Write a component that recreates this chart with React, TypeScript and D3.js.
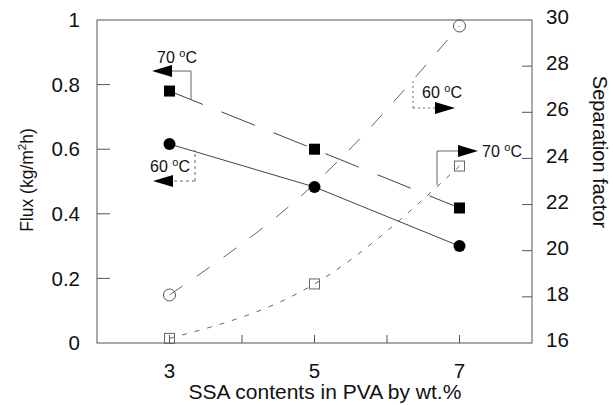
import React from 'react';
import * as d3 from 'd3';

const W = 613, H = 405;
const ssa = [3, 5, 7];
const flux70 = [0.78, 0.6, 0.418];
const flux60 = [0.616, 0.483, 0.3];
const sep60 = [18.08, 22.9, 29.74];
const sep60Markers = [3, 7];
const sep70 = [16.2, 18.56, 23.67];
const xTicks = [3, 4, 5, 6, 7];
const xTickLabels = ['3', '5', '7'];
const fluxTicks = [0, 0.2, 0.4, 0.6, 0.8, 1];
const fluxTickLabels = ['0', '0.2', '0.4', '0.6', '0.8', '1'];
const sepTicks = [16, 18, 20, 22, 24, 26, 28, 30];

// annotations: corner anchored in data coords (x, flux), extents in px
const annotations = [
  { temp: '70', side: 'left', x: 3.297, f: 0.842, lead: 19, vert: 29, tdx: -14, tdy: -8, anchor: 'middle', dash: null },
  { temp: '60', side: 'left', x: 3.352, f: 0.5015, lead: 22, vert: -31, tdx: -25, tdy: -9, anchor: 'middle', dash: '3 3' },
  { temp: '60', side: 'right', x: 6.359, f: 0.7276, lead: 22, vert: -28, tdx: 29, tdy: -10, anchor: 'middle', dash: '2 3' },
  { temp: '70', side: 'right', x: 6.69, f: 0.5944, lead: 21, vert: 34, tdx: 45, tdy: 6, anchor: 'start', dash: null },
];

const FONT = 'Liberation Sans, Arial, Helvetica, sans-serif';

export default function App() {
  const L = 97, R = 532, T = 20, B = 343;
  const xs = d3.scaleLinear().domain([2, 8]).range([L, R]);
  const yf = d3.scaleLinear().domain([0, 1]).range([B, T]);
  const ys = d3.scaleLinear().domain([16, 30]).range([B, T]);

  const lineF = d3.line<number>().x((_, i) => xs(ssa[i])).y((d) => yf(d));
  const lineS = d3
    .line<number>()
    .x((_, i) => xs(ssa[i]))
    .y((d) => ys(d))
    .curve(d3.curveNatural);

  const sq = 11;
  const osq = 10;

  return (
    <svg width={W} height={H} style={{ display: 'block', position: 'absolute', left: 0, top: 0 }} fontFamily={FONT}>
      <rect width={W} height={H} fill="#fff" />
      {/* frame */}
      <rect x={L} y={T} width={R - L} height={B - T} fill="none" stroke="#555" strokeWidth={1} />
      {/* left ticks */}
      {fluxTicks.map((t, i) => (
        <g key={'lf' + i}>
          {i > 0 && i < fluxTicks.length - 1 && (
            <line x1={L} x2={L + 13} y1={yf(t)} y2={yf(t)} stroke="#555" />
          )}
          <text x={80} y={yf(t)} dy="0.35em" textAnchor="end" fontSize={20.5} fill="#111">
            {fluxTickLabels[i]}
          </text>
        </g>
      ))}
      {/* right ticks */}
      {sepTicks.map((t, i) => (
        <g key={'rs' + i}>
          {i > 0 && i < sepTicks.length - 1 && (
            <line x1={R - 10} x2={R} y1={ys(t)} y2={ys(t)} stroke="#555" />
          )}
          <text x={546} y={ys(t) - 3} dy="0.35em" textAnchor="start" fontSize={20.5} fill="#111">
            {t}
          </text>
        </g>
      ))}
      {/* bottom ticks */}
      {xTicks.map((t, i) => (
        <line key={'xt' + i} x1={xs(t)} x2={xs(t)} y1={B} y2={B - 8} stroke="#555" />
      ))}
      {xTickLabels.map((t, i) => (
        <text key={'xl' + i} x={xs(+t)} y={378} textAnchor="middle" fontSize={20.5} fill="#111">
          {t}
        </text>
      ))}
      {/* axis titles */}
      <text x={325} y={399} textAnchor="middle" fontSize={21} fill="#111">
        SSA contents in PVA by wt.%
      </text>
      <text transform={`translate(33,180) rotate(-90)`} textAnchor="middle" fontSize={17.5} fill="#111">
        Flux (kg/m<tspan fontSize={11.5} dy={-7}>2</tspan>
        <tspan dy={7}>h)</tspan>
      </text>
      <text transform={`translate(593,152) rotate(90)`} textAnchor="middle" fontSize={20} fill="#111">
        Separation factor
      </text>

      {/* lines */}
      <path d={lineS(sep60) || ''} fill="none" stroke="#666" strokeWidth={1} strokeDasharray="16 17" />
      <path d={lineS(sep70) || ''} fill="none" stroke="#666" strokeWidth={1} strokeDasharray="5 8" />
      <path d={lineF(flux70) || ''} fill="none" stroke="#444" strokeWidth={1} strokeDasharray="36 20" />
      <path d={lineF(flux60) || ''} fill="none" stroke="#444" strokeWidth={1} />

      {/* markers */}
      {ssa.map((x, i) => (
        <rect key={'f70' + i} x={xs(x) - sq / 2} y={yf(flux70[i]) - sq / 2} width={sq} height={sq} fill="#000" />
      ))}
      {ssa.map((x, i) => (
        <circle key={'f60' + i} cx={xs(x)} cy={yf(flux60[i])} r={6} fill="#000" />
      ))}
      {ssa.map((x, i) =>
        sep60Markers.includes(x) ? (
          <circle key={'s60' + i} cx={xs(x)} cy={ys(sep60[i])} r={6} fill="none" stroke="#555" strokeWidth={1} />
        ) : null
      )}
      {ssa.map((x, i) => (
        <rect key={'s70' + i} x={xs(x) - osq / 2} y={ys(sep70[i]) - osq / 2} width={osq} height={osq} fill="none" stroke="#666" strokeWidth={1} />
      ))}

      {/* annotations */}
      {annotations.map((a, i) => {
        const cx = xs(a.x);
        const cy = yf(a.f);
        const s = a.side === 'left' ? -1 : 1;
        const bx = cx + s * a.lead;
        const tx = bx + s * 20;
        return (
          <g key={'an' + i}>
            <line x1={cx} x2={bx} y1={cy} y2={cy} stroke="#666" strokeDasharray={a.dash || undefined} />
            <line x1={cx} x2={cx} y1={cy} y2={cy + a.vert} stroke="#666" strokeDasharray={a.dash || undefined} />
            <path d={`M${tx},${cy} L${bx},${cy - 6} L${bx},${cy + 6} Z`} fill="#000" />
            <text x={cx + a.tdx} y={cy + a.tdy} textAnchor={a.anchor} fontSize={16} fill="#111">
              {a.temp + ' '}
              <tspan fontSize={11} dy={-6}>o</tspan>
              <tspan dy={6}>C</tspan>
            </text>
          </g>
        );
      })}
    </svg>
  );
}
